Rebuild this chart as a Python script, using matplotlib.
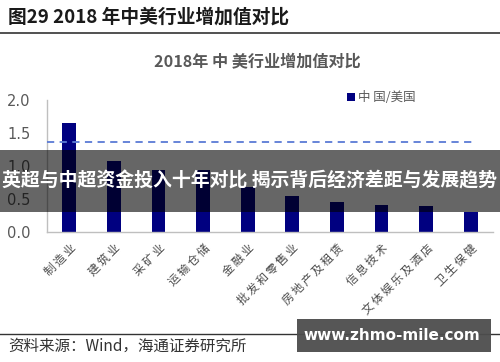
import matplotlib
matplotlib.use("Agg")
import matplotlib.pyplot as plt
from matplotlib.patches import Rectangle
from matplotlib.lines import Line2D

plt.rcParams['font.family'] = ['Noto Sans CJK SC', 'DejaVu Sans']

categories = ['制造业', '建筑业', '采矿业', '运输仓储', '金融业', '批发和零售业',
              '房地产及租赁', '信息技术', '文体娱乐及酒店', '卫生保健']
ratio = [1.65, 1.07, 0.94, 0.94, 0.68, 0.54, 0.46, 0.41, 0.40, 0.30]
avg_line = 1.36
yticks = [0.0, 0.5, 1.0, 1.5, 2.0]

W, H = 500, 362
fig = plt.figure(figsize=(W/100, H/100), dpi=100)

def fy(py):
    return 1 - py / H

ax = fig.add_axes([47/W, fy(232), (493-47)/W, (232-100)/H])
x = list(range(len(categories)))
ax.bar(x, ratio, width=0.31, color='#000080', label='中 国/美国', zorder=2)
ax.axhline(avg_line, xmin=0.0, xmax=(475-47)/446, color='#5B7BD5', lw=1.3,
           ls=(0, (4, 3)), zorder=3)
ax.set_xlim(-0.5, len(categories) - 0.5)
ax.set_ylim(0, 2.0)
ax.set_yticks(yticks)
ax.set_yticklabels([f'{v:.1f}' for v in yticks], color='#595959', fontsize=10.5,
                   family=['DejaVu Sans'])
ax.set_xticks(x)
spaced = ['\u2009'.join(c) for c in categories]
ax.set_xticklabels(spaced, rotation=45, ha='right', va='top',
                   rotation_mode='anchor', fontsize=8.3, color='#4a4a4a',
                   fontweight='light')
ax.tick_params(axis='x', length=0, pad=7)
ax.tick_params(axis='y', length=0, pad=12)
for s in ['top', 'right']:
    ax.spines[s].set_visible(False)
for s in ['left', 'bottom']:
    ax.spines[s].set_color('#BFBFBF')
    ax.spines[s].set_linewidth(1.0)

leg = ax.legend(loc='upper left', bbox_to_anchor=((342-47)/446, 1 + (100-86)/132),
                frameon=False, fontsize=9, handlelength=0.6, handleheight=0.6,
                handletextpad=0.3, borderaxespad=0)
for t in leg.get_texts():
    t.set_color('#595959')

fig.text(8/W, fy(17), '图29 2018 年中美行业增加值对比', fontsize=13.5,
         fontweight='bold', va='center', ha='left', color='#1a1a1a')
fig.add_artist(Line2D([0, 1], [fy(33), fy(33)], color='#333333', lw=1.2))
fig.text(257/W, fy(62), '2018年 中 美行业增加值对比', fontsize=11.6,
         fontweight='bold', va='center', ha='center', color='#595959')

fig.add_artist(Line2D([0, 1], [fy(334), fy(334)], color='#333333', lw=1.0))
fig.text(8/W, fy(346), '资料来源：Wind，海通证券研究所', fontsize=11.2,
         va='center', ha='left', color='#333333')

fig.patches.append(Rectangle((0, fy(212)), 1, (212-150)/H, transform=fig.transFigure,
                             facecolor='black', alpha=0.6, zorder=10, edgecolor='none'))
fig.text(0.5, fy(181), '英超与中超资金投入十年对比 揭示背后经济差距与发展趋势',
         fontsize=13.6, fontweight='bold', color='white', ha='center', va='center',
         zorder=11)

fig.patches.append(Rectangle((297/W, fy(352)), (491-297)/W, (352-319)/H,
                             transform=fig.transFigure, facecolor='#4d4d4d',
                             alpha=0.95, zorder=10, edgecolor='none'))
fig.text(392/W, fy(335.5), 'www.zhmo-mile.com', fontsize=11, fontweight='bold',
         color='white', ha='center', va='center', zorder=11,
         family=['DejaVu Sans'])

fig.savefig('out.png', dpi=100)
